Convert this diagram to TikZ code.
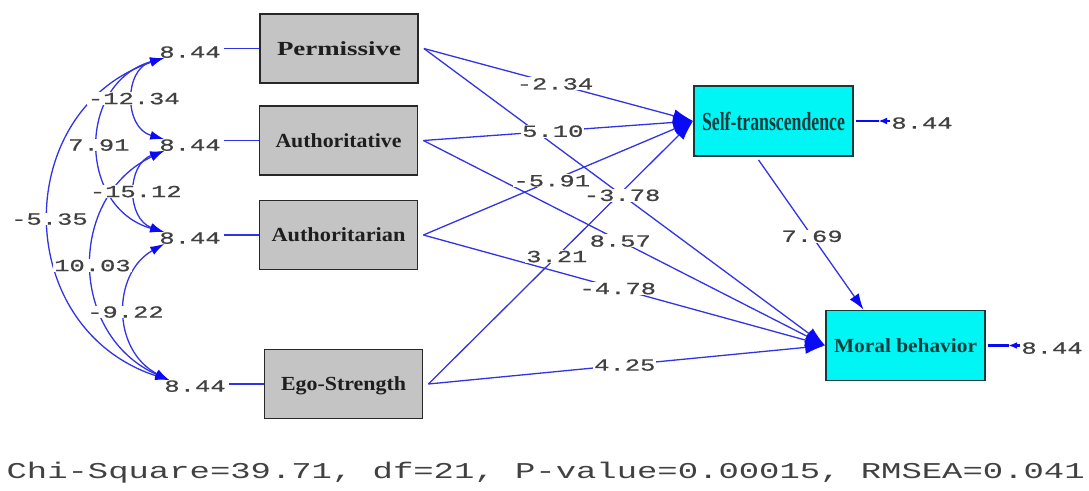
\documentclass[tikz,border=0pt]{standalone}
\usepackage{fontspec}
\setmainfont{Liberation Serif}
\newfontfamily\monof{Liberation Mono}[FakeBold=0.6]
\newfontfamily\monoreg{Liberation Mono}
\usetikzlibrary{arrows.meta}
\definecolor{lblue}{RGB}{50,50,230}
\definecolor{ablue}{RGB}{10,10,245}
\definecolor{boxgray}{RGB}{196,196,196}
\definecolor{boxcyan}{RGB}{0,245,245}
\definecolor{numgray}{RGB}{65,65,65}
\definecolor{bordgray}{RGB}{40,40,40}
\definecolor{txtgray}{RGB}{30,30,30}
\definecolor{teal}{RGB}{20,60,60}
\newcommand{\nm}[1]{\scalebox{1.5}[1]{\fontsize{17}{17}\selectfont\monof #1}}
\newcommand{\bxt}[3]{\resizebox{#1}{\height}{\fontsize{#2}{#2}\selectfont\bfseries #3}}
\begin{document}
\begin{tikzpicture}[x=1pt,y=-1pt,
  gbox/.style={draw=bordgray, line width=1.8pt, fill=boxgray, minimum width=158pt, minimum height=69pt, inner sep=0pt, text=txtgray, text depth=0pt},
  cbox/.style={draw=teal, line width=1.8pt, fill=boxcyan, minimum width=159pt, minimum height=70pt, inner sep=0pt, text=teal, text depth=0pt},
  errn/.style={inner sep=0pt, text=numgray, text depth=0pt},
  lab/.style={fill=white, inner sep=0.8pt, text=numgray, text depth=0pt},
  eline/.style={draw=lblue, line width=1.3pt},
  pth/.style={draw=lblue, line width=1.3pt, -{Latex[length=20pt,width=13pt,color=ablue]}},
  pthsm/.style={draw=lblue, line width=1.3pt, -{Latex[length=16pt,width=11pt,color=ablue]}},
  corr/.style={draw=lblue, line width=1.3pt, {Latex[length=14pt,width=9pt,color=ablue]}-{Latex[length=14pt,width=9pt,color=ablue]}},
  rerr/.style={draw=ablue, line width=2.2pt}
]
\useasboundingbox (0,0) rectangle (1089,490);

% boxes
\node[gbox] (P) at (339,48.5) {\bxt{124pt}{20}{Permissive}};
\node[gbox] (A) at (338.5,140.5) {\bxt{126pt}{20}{Authoritative}};
\node[gbox] (R) at (338.5,235) {\bxt{134pt}{20}{Authoritarian}};
\node[gbox] (E) at (343.5,384) {\bxt{125pt}{20}{Ego-Strength}};
\node[cbox] (S) at (773.5,121) {\bxt{143pt}{26}{Self-transcendence}};
\node[cbox] (M) at (905.5,345.5) {\bxt{143pt}{20}{Moral behavior}};

% error labels
\node[errn] (e1) at (190,52) {\nm{8.44}};
\node[errn] (e2) at (190,145) {\nm{8.44}};
\node[errn] (e3) at (190,238) {\nm{8.44}};
\node[errn] (e4) at (195,386) {\nm{8.44}};
\node[errn] (eS) at (922,123) {\nm{8.44}};
\node[errn] (eM) at (1052,348) {\nm{8.44}};

% left error lines
\draw[eline] ([xshift=3pt]e1.east |- P.west) -- (P.west);
\draw[eline] ([xshift=3pt]e2.east |- A.west) -- (A.west);
\draw[eline] ([xshift=3pt]e3.east |- R.west) -- (R.west);
\draw[eline] ([xshift=3pt]e4.east |- E.west) -- (E.west);

% correlation arcs
\draw[corr] ([xshift=5pt]e1.south west) .. controls (123.7,69.2) and (123.7,127.8) .. ([xshift=5pt]e2.north west) coordinate[pos=0.5] (c12);
\draw[corr] ([xshift=5pt]e1.south west) .. controls (77.1,82.7) and (77.1,207.3) .. ([xshift=5pt]e3.north west) coordinate[pos=0.5] (c13);
\draw[corr] ([xshift=5pt]e1.south west) .. controls (10.4,109.6) and (10.4,328.4) .. ([xshift=5pt]e4.north west) coordinate[pos=0.5] (c14);
\draw[corr] ([xshift=5pt]e2.south west) .. controls (126.3,164.2) and (126.3,218.8) .. ([xshift=5pt]e3.north west) coordinate[pos=0.5] (c23);
\draw[corr] ([xshift=5pt]e2.south west) .. controls (67.7,196.3) and (67.7,334.7) .. ([xshift=5pt]e4.north west) coordinate[pos=0.5] (c24);
\draw[corr] ([xshift=5pt]e3.south west) .. controls (111.7,273.5) and (111.7,350.5) .. ([xshift=5pt]e4.north west) coordinate[pos=0.5] (c34);

% structural paths
\draw[pth] ([xshift=5pt]P.east) -- (S.west) coordinate[pos=0.487] (lPS);
\draw[pth] ([xshift=5pt]A.east) -- (S.west) coordinate[pos=0.48] (lAS);
\draw[pth] ([xshift=5pt]R.east) -- (S.west) coordinate[pos=0.476] (lRS);
\draw[pth] ([xshift=5pt]E.east) -- (S.west) coordinate[pos=0.485] (lES);
\draw[pth] ([xshift=5pt]P.east) -- (M.west) coordinate[pos=0.494] (lPM);
\draw[pth] ([xshift=5pt]A.east) -- (M.west) coordinate[pos=0.49] (lAM);
\draw[pth] ([xshift=5pt]R.east) -- (M.west) coordinate[pos=0.484] (lRM);
\draw[pth] ([xshift=5pt]E.east) -- (M.west) coordinate[pos=0.495] (lEM);
\draw[pthsm] ([xshift=-15pt,yshift=-3pt]S.south) -- ([xshift=-42pt]M.north) coordinate[pos=0.51] (lSM);

% right error arrows
\draw[rerr] ([xshift=2pt]S.east) -- ([xshift=-12pt]eS.west |- S.east);
\draw[rerr, -{Latex[length=9pt,width=7pt]}] ([xshift=-1pt]eS.west |- S.east) -- ([xshift=-13pt]eS.west |- S.east);
\draw[rerr] ([xshift=2pt]M.east) -- ([xshift=-12pt]eM.west |- M.east);
\draw[rerr, -{Latex[length=9pt,width=7pt]}] ([xshift=-1pt]eM.west |- M.east) -- ([xshift=-13pt]eM.west |- M.east);

% labels
\node[lab] at (c12) {\nm{-12.34}};
\node[lab] at (c13) {\nm{7.91}};
\node[lab] at (c14) {\nm{-5.35}};
\node[lab] at (c23) {\nm{-15.12}};
\node[lab] at (c24) {\nm{10.03}};
\node[lab] at (c34) {\nm{-9.22}};
\node[lab] at (lPS) {\nm{-2.34}};
\node[lab] at (lAS) {\nm{5.10}};
\node[lab] at (lRS) {\nm{-5.91}};
\node[lab] at (lES) {\nm{3.21}};
\node[lab] at (lPM) {\nm{-3.78}};
\node[lab] at (lAM) {\nm{8.57}};
\node[lab] at (lRM) {\nm{-4.78}};
\node[lab] at (lEM) {\nm{4.25}};
\node[lab] at (lSM) {\nm{7.69}};

% fit statistics
\node[anchor=east, inner sep=0pt, text=numgray] (fit) at (1085,473) {\scalebox{1.5}[1]{\fontsize{22.6}{24}\selectfont\monoreg Chi-Square=39.71, df=21, P-value=0.00015, RMSEA=0.041}};
\end{tikzpicture}
\end{document}
